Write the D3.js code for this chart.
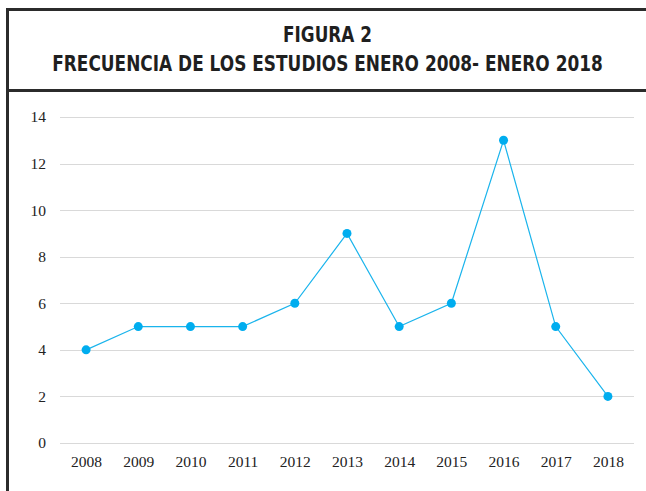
<!DOCTYPE html>
<html lang="es">
<head>
    <meta charset="UTF-8">
    <title>Figura 2</title>
    <script src="https://d3js.org/d3.v7.min.js"></script>
    <style>
        body { margin: 0; background: #fff; }
        svg { display: block; }
    </style>
</head>
<body>
    <svg id="chart"></svg>
    <script>
        const years = ["2008", "2009", "2010", "2011", "2012", "2013", "2014", "2015", "2016", "2017", "2018"];
        const counts = [4, 5, 5, 5, 6, 9, 5, 6, 13, 5, 2];
        const yTicks = [0, 2, 4, 6, 8, 10, 12, 14];
        const titleLines = ["FIGURA 2", "FRECUENCIA DE LOS ESTUDIOS ENERO 2008- ENERO 2018"];

        const W = 646, H = 491;
        const plot = { left: 60, right: 634, top: 117, bottom: 443 };

        const svg = d3.select("#chart").attr("width", W).attr("height", H);

        // frame
        svg.append("path")
            .attr("d", `M7.5,${H + 5} V9.5 H${W + 5}`)
            .attr("fill", "none").attr("stroke", "#2b2b2b").attr("stroke-width", 3);
        svg.append("line")
            .attr("x1", 6).attr("x2", W + 5).attr("y1", 90.5).attr("y2", 90.5)
            .attr("stroke", "#2b2b2b").attr("stroke-width", 3);

        // title: condensed look by squeezing each line to its width in the reference
        const titleFont = "'DejaVu Sans', sans-serif";
        const titleSpecs = [{ y: 42, width: 89 }, { y: 71, width: 551 }];
        titleLines.forEach((txt, i) => {
            const g = svg.append("g");
            const t = g.append("text")
                .attr("x", 0).attr("y", 0)
                .attr("text-anchor", "middle")
                .style("font-family", titleFont)
                .style("font-weight", "bold").style("font-size", "22px").attr("fill", "#1f1f1f")
                .text(txt);
            const sx = titleSpecs[i].width / t.node().getComputedTextLength();
            g.attr("transform", `translate(327.5,${titleSpecs[i].y}) scale(${sx},1)`);
        });

        const x = d3.scalePoint().domain(years).range([plot.left, plot.right]).padding(0.5);
        const y = d3.scaleLinear().domain([0, 14]).range([plot.bottom, plot.top]);

        // grid
        svg.append("g").selectAll("line")
            .data(yTicks).enter().append("line")
            .attr("x1", plot.left).attr("x2", plot.right)
            .attr("y1", d => Math.round(y(d)) + 0.5).attr("y2", d => Math.round(y(d)) + 0.5)
            .attr("stroke", "#d9d9d9").attr("stroke-width", 1);

        const yAxis = svg.append("g")
            .attr("transform", `translate(${plot.left - 14},0)`)
            .call(d3.axisLeft(y).tickValues(yTicks).tickSize(0).tickPadding(0));
        yAxis.select(".domain").remove();

        const xAxis = svg.append("g")
            .attr("transform", `translate(0,${plot.bottom + 8})`)
            .call(d3.axisBottom(x).tickSize(0).tickPadding(5));
        xAxis.select(".domain").remove();

        svg.selectAll(".tick text")
            .style("font-family", "'Liberation Serif', 'Times New Roman', serif")
            .style("font-size", "15.5px").attr("fill", "#222");

        const data = years.map((yr, i) => ({ year: yr, value: counts[i] }));

        const line = d3.line().x(d => x(d.year)).y(d => y(d.value));
        svg.append("path").datum(data)
            .attr("fill", "none").attr("stroke", "#1ab4ec").attr("stroke-width", 1.2)
            .attr("d", line);

        svg.selectAll(".dot").data(data).enter().append("circle")
            .attr("class", "dot")
            .attr("cx", d => x(d.year)).attr("cy", d => y(d.value))
            .attr("r", 4.5).attr("fill", "#00adef");
    </script>
</body>
</html>
